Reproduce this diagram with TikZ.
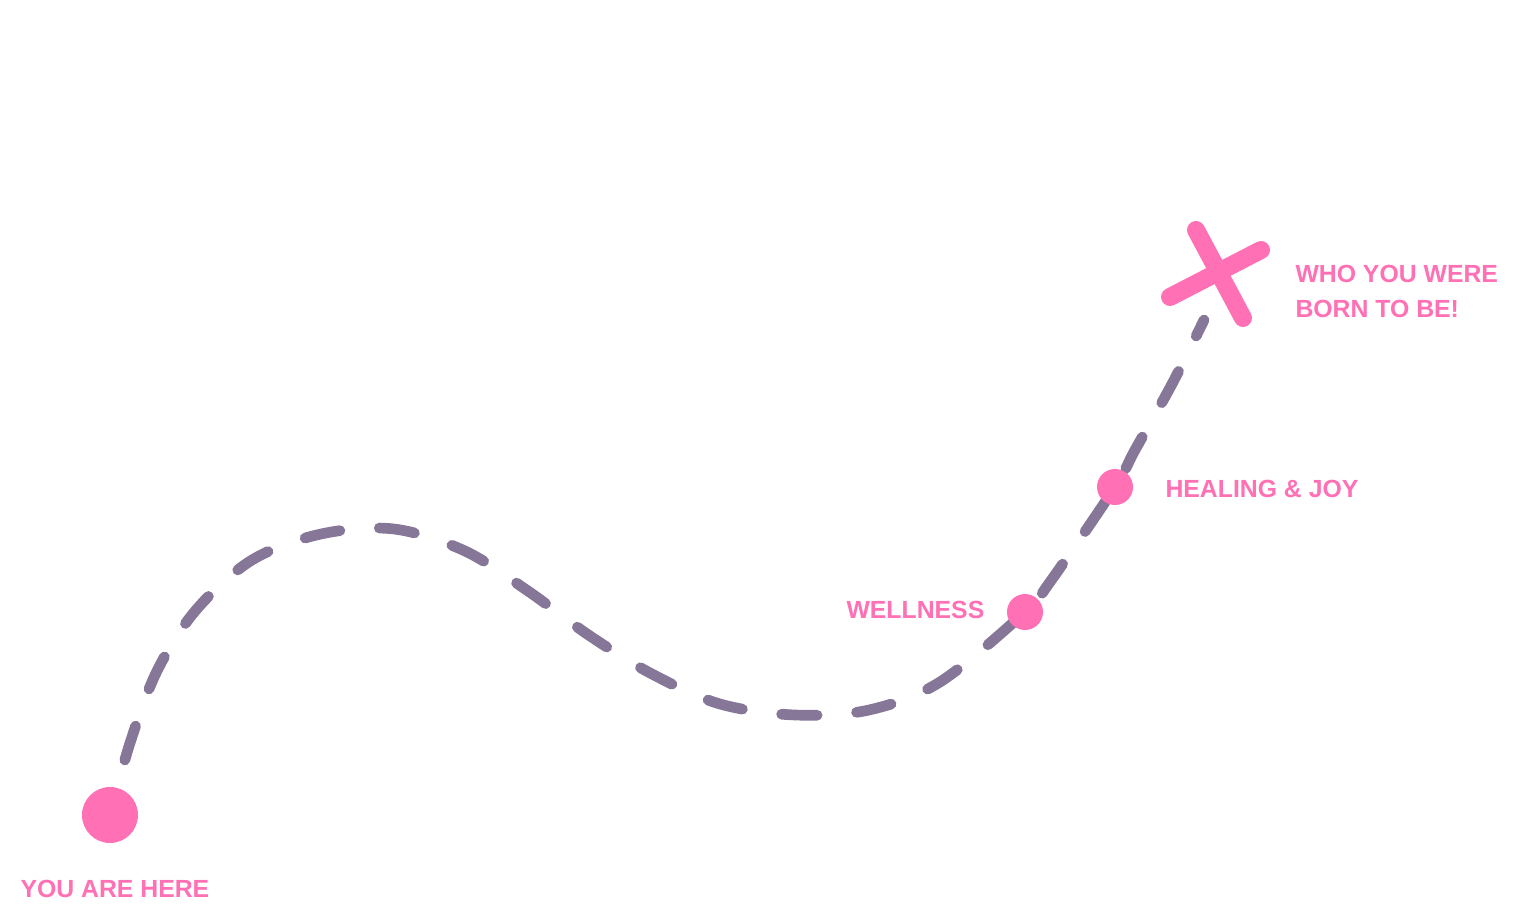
\documentclass[tikz,border=0pt]{standalone}
\usepackage{fontspec}
\setmainfont{Liberation Sans}

\definecolor{trailpurple}{RGB}{134,118,151}
\definecolor{markpink}{RGB}{255,112,180}

\tikzset{every picture/.style={line width=0.75pt}}
\tikzset{
  trail/.style={draw=trailpurple, line width=8pt, line cap=round, dash pattern={on 26.65pt off 29.65pt}, dash phase=13.55pt},
  stopdot/.style={circle, fill=markpink, inner sep=0pt, minimum size=#1},
  crossbar/.style={draw=markpink, line width=13.5pt, line cap=round},
  steplabel/.style={text=markpink, font=\fontsize{18.6}{26.25}\selectfont\bfseries, anchor=base west, inner sep=0pt, align=left},
}

\begin{document}
\begin{tikzpicture}[x=0.75pt,y=0.75pt,yscale=-1,xscale=1]
%set diagram frame, 1522 x 916
\useasboundingbox (0,0) rectangle (1522,916);

%Stops on the way
\coordinate (pstart) at (110,815);
\coordinate (pwell) at (1025,612);
\coordinate (pheal) at (1115,487);
\coordinate (pend) at (1204,320);

%Dashed trail
\draw [trail] plot [smooth, tension=0.55] coordinates {(pstart) (130,743) (157,671) (196,610) (252,560) (321,534) (394,529) (465,551) (528,591) (590,636) (652,674) (720,704) (795,715) (869,710) (940,682) (pwell) (1050,582) (pheal) (1135,450) (1172,384) (pend)};

%Cross mark
\draw [crossbar] (1196,230) -- (1243,318) ;
\draw [crossbar] (1170,297) -- (1261,250) ;

%Dots
\node [stopdot=42pt] (start) at (pstart) {};
\node [stopdot=27pt] (wellness) at (pwell) {};
\node [stopdot=27pt] (healing) at (pheal) {};

% Text Node
\node [steplabel] (lblstart) at (20,897) {YOU ARE HERE};
% Text Node
\node [steplabel] (lblwell) at (846,618) {WELLNESS};
% Text Node
\node [steplabel] (lblheal) at (1165,498) {HEALING \& JOY};
% Text Node
\node [steplabel] (lblgoal) at (1295,318) {WHO YOU WERE\\BORN TO BE!};

\end{tikzpicture}
\end{document}
